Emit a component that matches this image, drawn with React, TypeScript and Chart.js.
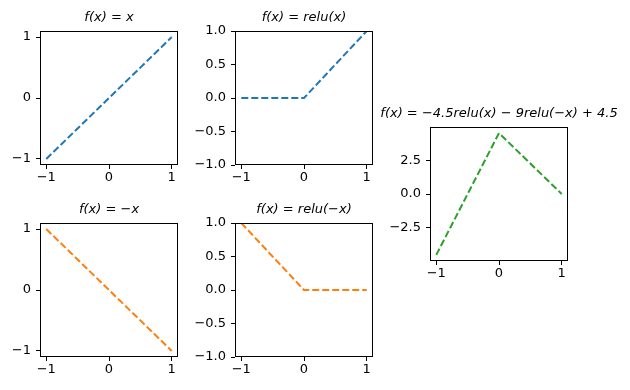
import React, { useEffect, useRef } from "react";
import { Chart, registerables } from "chart.js";

Chart.register(...registerables);

// ---- data ----
const xValues = [-1, 0, 1];
const identity = [-1, 0, 1];
const reluPos = [0, 0, 1];
const negIdentity = [1, 0, -1];
const reluNeg = [1, 0, 0];
const combo = [-4.5, 4.5, 0];

const titles = [
  "f(x) = x",
  "f(x) = relu(x)",
  "f(x) = −x",
  "f(x) = relu(−x)",
  "f(x) = −4.5relu(x) − 9relu(−x) + 4.5",
];

const xTicks = [-1, 0, 1];
const xTickLabels = ["−1", "0", "1"];
const unitTicks = [-1, 0, 1];
const unitTickLabels = ["−1", "0", "1"];
const halfTicks = [-1, -0.5, 0, 0.5, 1];
const halfTickLabels = ["−1.0", "−0.5", "0.0", "0.5", "1.0"];
const comboTicks = [-2.5, 0, 2.5];
const comboTickLabels = ["−2.5", "0.0", "2.5"];

// ---- styling / layout ----
const BLUE = "#1f77b4";
const ORANGE = "#ff7f0e";
const GREEN = "#2ca02c";
const FONT = "'DejaVu Sans', sans-serif";
const WY = 60;
const TITLE_H = 23;
const XAXIS_H = 30;

type PanelCfg = {
  title: string;
  ys: number[];
  color: string;
  yMin: number;
  yMax: number;
  yTicks: number[];
  yLabels: string[];
  left: number;
  top: number;
  w: number;
  h: number;
};

const panels: PanelCfg[] = [
  { title: titles[0], ys: identity, color: BLUE, yMin: -1.1, yMax: 1.1, yTicks: unitTicks, yLabels: unitTickLabels, left: 40, top: 31, w: 138, h: 134 },
  { title: titles[1], ys: reluPos, color: BLUE, yMin: -1, yMax: 1, yTicks: halfTicks, yLabels: halfTickLabels, left: 235, top: 31, w: 138, h: 134 },
  { title: titles[2], ys: negIdentity, color: ORANGE, yMin: -1.1, yMax: 1.1, yTicks: unitTicks, yLabels: unitTickLabels, left: 40, top: 223, w: 138, h: 134 },
  { title: titles[3], ys: reluNeg, color: ORANGE, yMin: -1, yMax: 1, yTicks: halfTicks, yLabels: halfTickLabels, left: 235, top: 223, w: 138, h: 134 },
  { title: titles[4], ys: combo, color: GREEN, yMin: -4.95, yMax: 4.95, yTicks: comboTicks, yLabels: comboTickLabels, left: 430, top: 127, w: 138, h: 134 },
];

const boxPlugin = {
  id: "boxFrame",
  afterDatasetsDraw(chart: any) {
    const { ctx, chartArea } = chart;
    ctx.save();
    ctx.strokeStyle = "#000";
    ctx.lineWidth = 1;
    ctx.strokeRect(
      Math.round(chartArea.left) + 0.5,
      Math.round(chartArea.top) + 0.5,
      Math.round(chartArea.right - chartArea.left) - 1,
      Math.round(chartArea.bottom - chartArea.top) - 1
    );
    ctx.restore();
  },
};

function Panel({ cfg }: { cfg: PanelCfg }) {
  const ref = useRef<HTMLCanvasElement | null>(null);
  const W = cfg.w + 2 * WY;
  const H = cfg.h + TITLE_H + XAXIS_H;

  useEffect(() => {
    if (!ref.current) return;
    const tickFont = { family: FONT, size: 13 };
    const chart = new Chart(ref.current, {
      type: "line",
      data: {
        datasets: [
          {
            data: xValues.map((x, i) => ({ x, y: cfg.ys[i] })),
            borderColor: cfg.color,
            borderWidth: 2,
            borderDash: [7, 3],
            pointRadius: 0,
            fill: false,
            tension: 0,
            clip: 0,
          } as any,
        ],
      },
      options: {
        responsive: false,
        animation: false,
        events: [],
        layout: { padding: 0 },
        plugins: {
          legend: { display: false },
          tooltip: { enabled: false },
          title: {
            display: true,
            text: cfg.title,
            color: "#000",
            font: { family: FONT, size: 13, style: "italic", weight: "normal", lineHeight: "16px" } as any,
            padding: { top: 2, bottom: 5 },
          },
        },
        scales: {
          x: {
            type: "linear",
            position: "bottom",
            min: -1.1,
            max: 1.1,
            bounds: "data",
            afterBuildTicks: (s: any) => {
              s.ticks = xTicks.map((v) => ({ value: v }));
            },
            afterFit: (s: any) => {
              s.height = XAXIS_H;
            },
            grid: { display: true, drawOnChartArea: false, drawTicks: true, tickLength: 4, tickColor: "#000", color: "#000" },
            border: { display: false },
            ticks: {
              color: "#000",
              font: tickFont,
              padding: 1,
              maxRotation: 0,
              autoSkip: false,
              callback: (_v: any, i: number) => xTickLabels[i],
            },
          },
          y: {
            type: "linear",
            position: "left",
            min: cfg.yMin,
            max: cfg.yMax,
            bounds: "data",
            afterBuildTicks: (s: any) => {
              s.ticks = cfg.yTicks.map((v) => ({ value: v }));
            },
            afterFit: (s: any) => {
              s.width = WY;
            },
            grid: { display: true, drawOnChartArea: false, drawTicks: true, tickLength: 4, tickColor: "#000", color: "#000" },
            border: { display: false },
            ticks: {
              color: "#000",
              font: tickFont,
              padding: 5,
              autoSkip: false,
              callback: (_v: any, i: number) => cfg.yLabels[i],
            },
          },
          y2: {
            type: "linear",
            position: "right",
            display: true,
            grid: { display: false },
            border: { display: false },
            ticks: { display: false },
            afterFit: (s: any) => {
              s.width = WY;
            },
          },
        },
      } as any,
      plugins: [boxPlugin],
    });
    return () => chart.destroy();
  }, []);

  return (
    <div style={{ position: "absolute", left: cfg.left - WY, top: cfg.top - TITLE_H, width: W, height: H }}>
      <canvas ref={ref} width={W} height={H} style={{ width: W, height: H, display: "block" }} />
    </div>
  );
}

export default function App() {
  return (
    <div style={{ position: "fixed", left: 0, top: 0, width: 630, height: 390, overflow: "hidden", background: "#fff" }}>
      {panels.map((p, i) => (
        <Panel key={i} cfg={p} />
      ))}
    </div>
  );
}
